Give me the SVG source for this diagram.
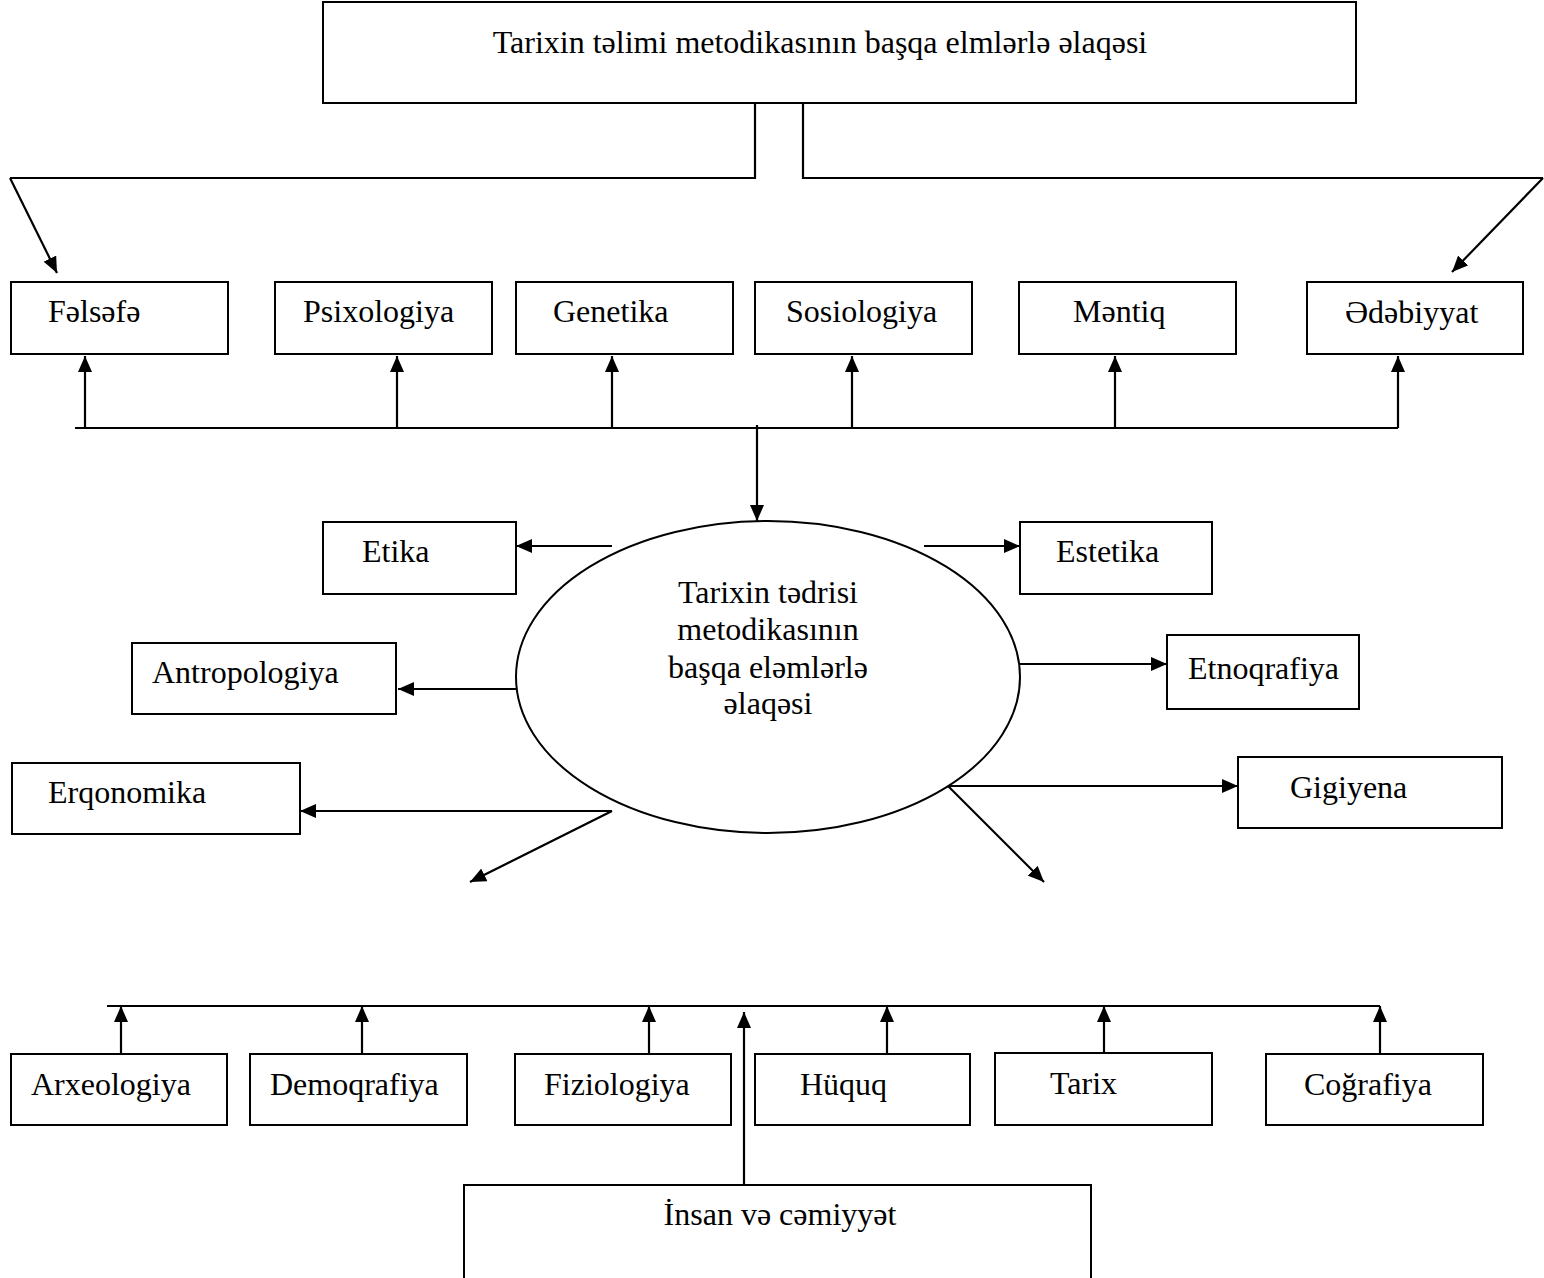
<svg xmlns="http://www.w3.org/2000/svg" width="1544" height="1278" viewBox="0 0 1544 1278">
  <defs>
    <marker id="arrow" markerUnits="userSpaceOnUse" markerWidth="16" markerHeight="14" refX="16" refY="7" orient="auto">
      <path d="M0,0 L16,7 L0,14 Z" fill="#000"/>
    </marker>
  </defs>
  <style>
    .box { fill: #fff; stroke: #000; stroke-width: 2; }
    .lbl { font-family: "Liberation Serif", "Times New Roman", serif; font-size: 32px; fill: #000; }
    .mid { text-anchor: middle; }
    .wire { fill: none; stroke: #000; stroke-width: 2.2; }
    .arr { fill: none; stroke: #000; stroke-width: 2.2; marker-end: url(#arrow); }
  </style>
  <rect width="1544" height="1278" fill="#fff"/>

  <g id="connectors">
    <!-- split from the title box -->
    <path class="wire" d="M755,103 V178 H10"/>
    <path class="arr" d="M10,178 L57,273"/>
    <path class="wire" d="M803,103 V178 H1543"/>
    <path class="arr" d="M1543,178 L1452,272"/>
    <!-- upper bus -->
    <path class="wire" d="M75,428 H1398"/>
    <path class="arr" d="M85,428 V356"/>
    <path class="arr" d="M397,428 V356"/>
    <path class="arr" d="M612,428 V356"/>
    <path class="arr" d="M852,428 V356"/>
    <path class="arr" d="M1115,428 V356"/>
    <path class="arr" d="M1398,428 V356"/>
    <path class="arr" d="M757,425 V521"/>
    <!-- around the ellipse -->
    <path class="arr" d="M612,546 H516"/>
    <path class="arr" d="M924,546 H1020"/>
    <path class="arr" d="M516,689 H398"/>
    <path class="arr" d="M1019,664 H1167"/>
    <path class="arr" d="M612,811 H300"/>
    <path class="arr" d="M612,811 L470,882"/>
    <path class="arr" d="M948,786 H1238"/>
    <path class="arr" d="M948,786 L1044,882"/>
    <!-- lower bus -->
    <path class="wire" d="M107,1006 H1380"/>
    <path class="arr" d="M121,1054 V1006"/>
    <path class="arr" d="M362,1054 V1006"/>
    <path class="arr" d="M649,1054 V1006"/>
    <path class="arr" d="M887,1054 V1006"/>
    <path class="arr" d="M1104,1053 V1006"/>
    <path class="arr" d="M1380,1054 V1006"/>
    <path class="arr" d="M744,1185 V1012"/>
  </g>

  <g id="title">
    <rect class="box" x="323" y="2" width="1033" height="101"/>
    <text class="lbl mid" x="820" y="53" font-size="33">Tarixin təlimi metodikasının başqa elmlərlə əlaqəsi</text>
  </g>

  <g id="felsefe"><rect class="box" x="11" y="282" width="217" height="72"/><text class="lbl" x="48" y="322">Fəlsəfə</text></g>
  <g id="psixologiya"><rect class="box" x="275" y="282" width="217" height="72"/><text class="lbl" x="303" y="322">Psixologiya</text></g>
  <g id="genetika"><rect class="box" x="516" y="282" width="217" height="72"/><text class="lbl" x="553" y="322">Genetika</text></g>
  <g id="sosiologiya"><rect class="box" x="755" y="282" width="217" height="72"/><text class="lbl" x="786" y="322">Sosiologiya</text></g>
  <g id="mentiq"><rect class="box" x="1019" y="282" width="217" height="72"/><text class="lbl" x="1073" y="322">Məntiq</text></g>
  <g id="edebiyyat"><rect class="box" x="1307" y="282" width="216" height="72"/><text class="lbl" x="1345" y="323">Ədəbiyyat</text></g>

  <g id="center">
    <ellipse class="box" cx="768" cy="677" rx="252" ry="156"/>
    <text class="lbl mid" x="768" y="603">Tarixin tədrisi</text>
    <text class="lbl mid" x="768" y="640">metodikasının</text>
    <text class="lbl mid" x="768" y="678">başqa eləmlərlə</text>
    <text class="lbl mid" x="768" y="714">əlaqəsi</text>
  </g>

  <g id="etika"><rect class="box" x="323" y="522" width="193" height="72"/><text class="lbl" x="362" y="562">Etika</text></g>
  <g id="estetika"><rect class="box" x="1020" y="522" width="192" height="72"/><text class="lbl" x="1056" y="562">Estetika</text></g>
  <g id="antropologiya"><rect class="box" x="132" y="643" width="264" height="71"/><text class="lbl" x="152" y="683">Antropologiya</text></g>
  <g id="etnoqrafiya"><rect class="box" x="1167" y="635" width="192" height="74"/><text class="lbl" x="1188" y="679">Etnoqrafiya</text></g>
  <g id="erqonomika"><rect class="box" x="12" y="763" width="288" height="71"/><text class="lbl" x="48" y="803">Erqonomika</text></g>
  <g id="gigiyena"><rect class="box" x="1238" y="757" width="264" height="71"/><text class="lbl" x="1290" y="798">Gigiyena</text></g>

  <g id="arxeologiya"><rect class="box" x="11" y="1054" width="216" height="71"/><text class="lbl" x="31" y="1095">Arxeologiya</text></g>
  <g id="demoqrafiya"><rect class="box" x="250" y="1054" width="217" height="71"/><text class="lbl" x="270" y="1095">Demoqrafiya</text></g>
  <g id="fiziologiya"><rect class="box" x="515" y="1054" width="216" height="71"/><text class="lbl" x="544" y="1095">Fiziologiya</text></g>
  <g id="huquq"><rect class="box" x="755" y="1054" width="215" height="71"/><text class="lbl" x="800" y="1095">Hüquq</text></g>
  <g id="tarix"><rect class="box" x="995" y="1053" width="217" height="72"/><text class="lbl" x="1050" y="1094">Tarix</text></g>
  <g id="cografiya"><rect class="box" x="1266" y="1054" width="217" height="71"/><text class="lbl" x="1304" y="1095">Coğrafiya</text></g>

  <g id="insan">
    <rect class="box" x="464" y="1185" width="627" height="110"/>
    <text class="lbl mid" x="780" y="1225">İnsan və cəmiyyət</text>
  </g>
</svg>
